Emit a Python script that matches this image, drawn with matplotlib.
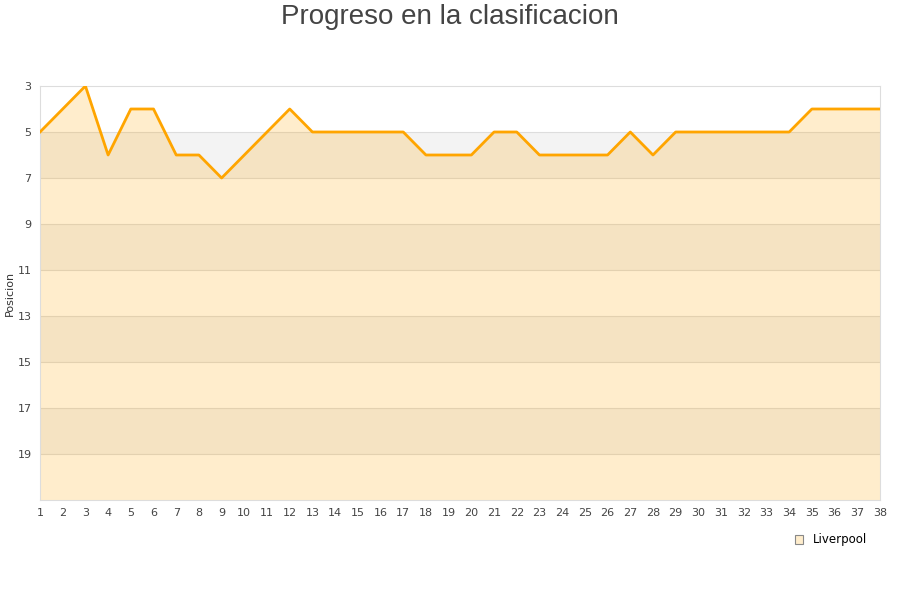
import matplotlib
matplotlib.use("Agg")
import matplotlib.pyplot as plt
from matplotlib.patches import Patch

jornadas = list(range(1, 39))
posicion = [5, 4, 3, 6, 4, 4, 6, 6, 7, 6, 5, 4, 5, 5, 5, 5, 5, 6, 6, 6,
            5, 5, 6, 6, 6, 6, 5, 6, 5, 5, 5, 5, 5, 5, 4, 4, 4, 4]
y_ticks = [3, 5, 7, 9, 11, 13, 15, 17, 19]
equipo = "Liverpool"

fig = plt.figure(figsize=(9, 6), dpi=100, facecolor="white")
ax = fig.add_axes([40 / 900, 1 - 500 / 600, 840 / 900, 414 / 600])

# bandas alternas de fondo
for i, y0 in enumerate(range(3, 21, 2)):
    if i % 2 == 1:
        ax.axhspan(y0, y0 + 2, color="#f3f3f3", zorder=0, lw=0)
for y in y_ticks[1:]:
    ax.axhline(y, color="#dddddd", lw=0.8, zorder=1)

ax.fill_between(jornadas, posicion, 21, color="orange", alpha=0.2, lw=0, zorder=2)
ax.plot(jornadas, posicion, color="orange", lw=2.0, zorder=3)

ax.set_xlim(1, 38)
ax.set_ylim(21, 3)
ax.set_xticks(jornadas)
ax.set_yticks(y_ticks)
ax.tick_params(length=0, labelsize=8, labelcolor="#444444", pad=6)
for s in ax.spines.values():
    s.set_color("#dddddd")
    s.set_linewidth(0.8)

ax.set_ylabel("Posicion", fontsize=8, color="#333333")
ax.yaxis.set_label_coords(-25 / 840, 0.5)

fig.text(0.5, 0.993, "Progreso en la clasificacion", ha="center", va="top",
         fontsize=20, color="#444444", family="Liberation Sans")

handle = Patch(facecolor="#ffedcc", edgecolor="#888888", linewidth=0.8)
fig.legend([handle], [equipo], loc="center", bbox_to_anchor=(0.923, 0.1),
           frameon=False, fontsize=8.5, handlelength=0.7, handleheight=0.7,
           handletextpad=0.8)

plt.savefig("out.png", dpi=100, facecolor=fig.get_facecolor())
plt.close(fig)
